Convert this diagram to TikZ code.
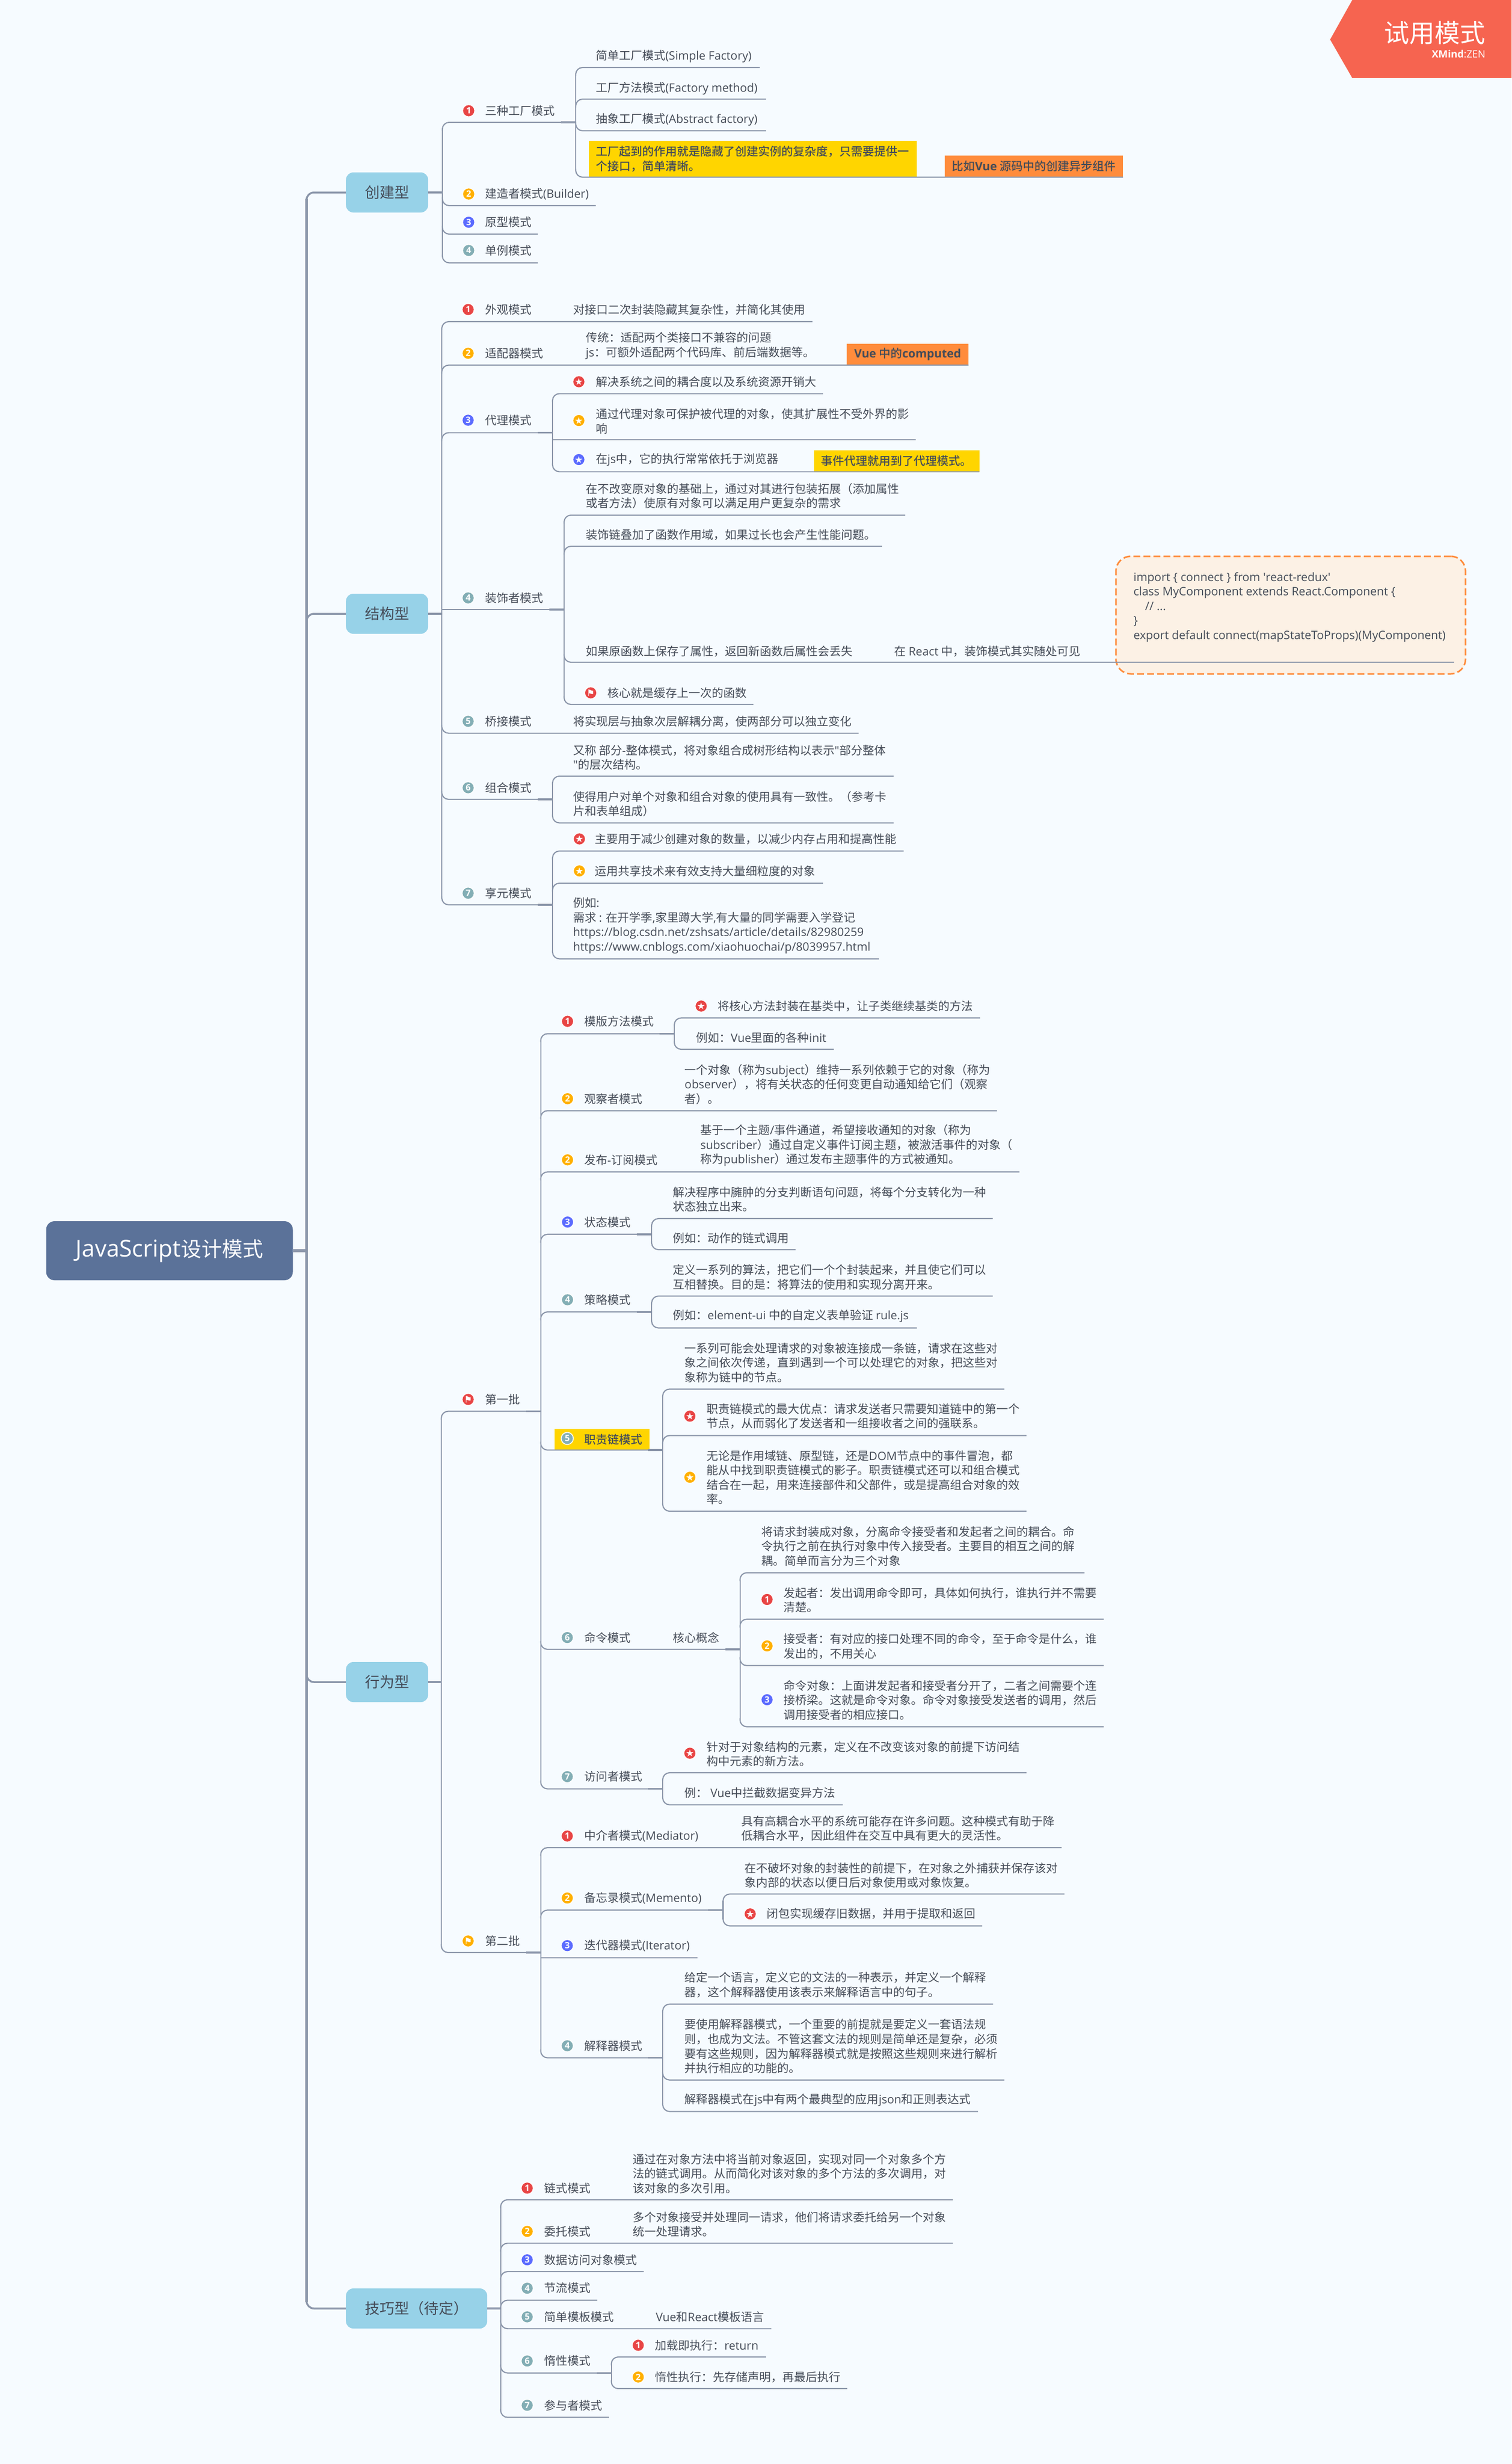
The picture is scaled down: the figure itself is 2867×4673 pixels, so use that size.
\documentclass[tikz,border=0pt]{standalone}
\usepackage{fontspec}
\setmainfont{Open Sans}
\newfontfamily\cjkfont[BoldFont={Noto Sans CJK SC Medium}]{Noto Sans CJK SC}
\newfontfamily\latfont{Open Sans}
\newfontfamily\symfont{DejaVu Sans}
\newXeTeXintercharclass\cjkclass
\newXeTeXintercharclass\symclass
\newcount\ccode
\ccode="4E00 \loop\XeTeXcharclass\ccode=\cjkclass\ifnum\ccode<"9FFF\advance\ccode by 1 \repeat
\ccode="3000 \loop\XeTeXcharclass\ccode=\cjkclass\ifnum\ccode<"303F\advance\ccode by 1 \repeat
\ccode="FF00 \loop\XeTeXcharclass\ccode=\cjkclass\ifnum\ccode<"FFEF\advance\ccode by 1 \repeat
\XeTeXcharclass"2605=\symclass
\XeTeXcharclass"2691=\symclass
\XeTeXinterchartoks 0 \cjkclass={\cjkfont}
\XeTeXinterchartoks 4095 \cjkclass={\cjkfont}
\XeTeXinterchartoks \cjkclass 0={\latfont}
\XeTeXinterchartoks 4095 0={\latfont}
\XeTeXinterchartokenstate=1
\definecolor{paper}{HTML}{F6FBFF}
\definecolor{ink}{HTML}{454C58}
\definecolor{wire}{HTML}{8B96AA}
\definecolor{navy}{HTML}{5B7299}
\definecolor{sky}{HTML}{97D2E8}
\definecolor{tagyellow}{HTML}{FFD500}
\definecolor{tagorange}{HTML}{FF8C3C}
\definecolor{trial}{HTML}{F66450}
\definecolor{icored}{HTML}{E84545}
\definecolor{icoorange}{HTML}{FFB000}
\definecolor{icoblue}{HTML}{5B6BFF}
\definecolor{icoteal}{HTML}{83AEB5}
\tikzset{
  twigline/.style={wire, line width=2.2pt, rounded corners=13pt},
  stemline/.style={wire, line width=2.2pt, shorten >=13pt, shorten <=13pt},
  stubline/.style={wire, line width=3.4pt},
  rootline/.style={wire, line width=3.5pt, rounded corners=14pt},
  txt/.style={font=\fontsize{22}{27.6}\selectfont, text=ink, anchor=west, align=left, inner sep=0pt},
  num/.style={circle, fill=#1, draw=white, line width=1.6pt, text=white, minimum size=23pt, inner sep=0pt,
    font=\fontsize{16.5}{16.5}\selectfont\bfseries},
  mainbox/.style={fill=sky, rounded corners=14pt, minimum height=76pt, anchor=west, text=ink,
    font=\fontsize{28}{32}\selectfont},
  tagbox/.style={txt, fill=#1, inner xsep=13pt, font=\fontsize{22}{27.6}\selectfont\bfseries},
}
\newcommand{\twig}[5]{%
  \coordinate (#1s) at (#2,#3);
  \coordinate (#1e) at (#4,#3);
  \ifnum#5=0 \draw[twigline] (#1s) -- (#1e);
  \else \draw[twigline] (#1s) ++(0,#5) -- (#1s) -- (#1e);
  \fi}
\newcommand{\stemdraw}[2]{\draw[stemline] (#1s) -- (#2s);}
\newcommand{\stubdraw}[1]{\draw[stubline] (#1e) -- ++(-28,0);}
\newcommand{\starmark}{{\symfont\fontsize{18}{18}\selectfont ★}}
\newcommand{\flagmark}{{\symfont\fontsize{17}{17}\selectfont ⚑}}
\begin{document}
\begin{tikzpicture}[x=1pt,y=-1pt]
  \fill[paper] (0,0) rectangle (2867,4673);
  \useasboundingbox (0,0) rectangle (2867,4673);

  \fill[trial] (2565,0) -- (2867,0) -- (2867,148) -- (2565,148) -- (2523,75) -- cycle;
  \node[anchor=east, text=white, font=\fontsize{48}{50}\selectfont] (trialT) at (2821,62) {试用模式};
  \node[anchor=east, text=white, font=\fontsize{19}{20}\selectfont] (trialZ) at (2821,102) {\textbf{XMind}:ZEN};

  \node[fill=navy, rounded corners=16pt, minimum width=468pt, minimum height=112pt, text=white,
    font=\fontsize{39}{44}\selectfont] (root) at (321.5,2372) {{\fontsize{44}{44}\selectfont JavaScript}设计模式};
  \node[mainbox, minimum width=156pt] (creat) at (656,365) {创建型};
  \node[mainbox, minimum width=156pt] (struc) at (656,1164) {结构型};
  \node[mainbox, minimum width=156pt] (behav) at (656,3190) {行为型};
  \node[mainbox, minimum width=268pt] (skill) at (656,4378) {技巧型（待定）};

  \coordinate (crs) at (581.5,365);
  \coordinate (sts) at (581.5,1164);
  \coordinate (bes) at (581.5,3190);
  \coordinate (sks) at (581.5,4378);
  \coordinate (roj) at (581.5,2372);
  \draw[rootline] (crs) ++(0,16) -- (crs) -- (creat.west);
  \draw[rootline] (sts) ++(0,16) -- (sts) -- (struc.west);
  \draw[rootline] (bes) ++(0,-16) -- (bes) -- (behav.west);
  \draw[rootline] (sks) ++(0,-16) -- (sks) -- (skill.west);
  \draw[rootline, line width=5.8pt, shorten >=12pt, shorten <=12pt] (crs) -- (sks);
  \draw[stubline, line width=6.4pt] (root.east) -- (roj);

  \coordinate (crj) at (839,365);
  \coordinate (stj) at (838,1164);
  \coordinate (bej) at (837,3190);
  \coordinate (skj) at (949.7,4378);
  \draw[stubline] (creat.east) -- (crj);
  \draw[stubline] (struc.east) -- (stj);
  \draw[stubline] (behav.east) -- (bej);
  \draw[stubline] (skill.east) -- (skj);

  \node[tagbox=tagyellow, text width=596pt, minimum height=69pt] (facN) at (1117,301.5)
    {工厂起到的作用就是隐藏了创建实例的复杂度，只需要提供一\\个接口，简单清晰。};
  \node[tagbox=tagorange, minimum width=338pt, minimum height=41pt, anchor=west] (facV) at (1792,315.5) {比如Vue 源码中的创建异步组件};
  \node[tagbox=tagorange, minimum width=231pt, minimum height=41pt] (adaV) at (1606,672) {Vue 中的computed};
  \node[tagbox=tagyellow, minimum width=313.5pt, minimum height=41pt] (proV) at (1544,874) {事件代理就用到了代理模式。};
  \node[tagbox=tagyellow, text width=154pt, minimum height=40.5pt] (chainT) at (1051.4,2729.8) {\hspace*{43.6pt}职责链模式};
  \node[draw=tagorange, fill=white!60!paper!90!orange, line width=3pt, dash pattern=on 13pt off 6pt, rounded corners=28pt,
    minimum width=663pt, minimum height=223pt] (code) at (2448.3,1166.5) {};

  \twig{fac}{839}{232}{1092}{16}
  \twig{bld}{839}{390}{1130}{-16}
  \twig{pro}{839}{444}{1020}{-16}
  \twig{sin}{839}{498.5}{1020}{-16}
  \stemdraw{fac}{sin}
  \twig{facS}{1092}{128}{1441}{16}
  \twig{facM}{1092}{188}{1453}{16}
  \twig{facA}{1092}{248}{1453}{-16}
  \twig{facB}{1092}{336}{2130}{-16}
  \stemdraw{facS}{facB}
  \stubdraw{fac}

  \twig{fas}{838}{610}{1541}{16}
  \twig{ada}{838}{692.5}{1837}{16}
  \twig{prx}{838}{820.6}{1048}{16}
  \twig{dec}{838}{1156}{1070}{0}
  \twig{bri}{838}{1390.6}{1628.6}{-16}
  \twig{com}{838}{1516}{1048}{-16}
  \twig{fly}{838}{1716}{1048}{-16}
  \stemdraw{fas}{fly}
  \twig{prxA}{1048}{746.6}{1561}{16}
  \twig{prxB}{1048}{834}{1737}{0}
  \twig{prxC}{1048}{894.6}{1857.5}{-16}
  \stemdraw{prxA}{prxC}
  \stubdraw{prx}
  \twig{decA}{1070}{977}{1717}{16}
  \twig{decB}{1070}{1036}{1673}{16}
  \twig{decC}{1070}{1256}{2758}{-16}
  \twig{decD}{1070}{1336}{1429}{-16}
  \stemdraw{decA}{decD}
  \stubdraw{dec}
  \twig{comA}{1048}{1472}{1695}{16}
  \twig{comB}{1048}{1560.6}{1695}{-16}
  \stemdraw{comA}{comB}
  \stubdraw{com}
  \twig{flyA}{1048}{1614}{1714}{16}
  \twig{flyB}{1048}{1675}{1561}{16}
  \twig{flyC}{1048}{1818.4}{1667}{-16}
  \stemdraw{flyA}{flyC}
  \stubdraw{fly}

  \twig{one}{837}{2676.5}{1025.6}{16}
  \twig{two}{837}{3703}{1025.6}{-16}
  \stemdraw{one}{two}
  \stubdraw{one}
  \stubdraw{two}
  \twig{tpl}{1025.6}{1960.4}{1279}{16}
  \twig{obs}{1025.6}{2106.4}{1891}{16}
  \twig{pub}{1025.6}{2222.5}{1933.7}{16}
  \twig{sta}{1025.6}{2340.8}{1236}{16}
  \twig{stg}{1025.6}{2488}{1236}{16}
  \twig{cha}{1025.6}{2750}{1257}{-16}
  \twig{cmd}{1025.6}{3128}{1403.6}{-16}
  \twig{vis}{1025.6}{3392.6}{1257}{-16}
  \stemdraw{tpl}{vis}
  \twig{tplA}{1279}{1930.5}{1859}{16}
  \twig{tplB}{1279}{1990}{1581.6}{-16}
  \stemdraw{tplA}{tplB}
  \stubdraw{tpl}
  \twig{staA}{1236}{2311}{1883}{16}
  \twig{staB}{1236}{2370}{1509}{-16}
  \stemdraw{staA}{staB}
  \stubdraw{sta}
  \twig{stgA}{1236}{2458}{1883}{16}
  \twig{stgB}{1236}{2518.5}{1739}{-16}
  \stemdraw{stgA}{stgB}
  \stubdraw{stg}
  \twig{chaA}{1257}{2634.4}{1905}{16}
  \twig{chaB}{1257}{2722.5}{1947}{16}
  \twig{chaC}{1257}{2866}{1947}{-16}
  \stemdraw{chaA}{chaC}
  \stubdraw{cha}
  \twig{cmdA}{1403.6}{2982.7}{2057}{16}
  \twig{cmdB}{1403.6}{3070.7}{2093.6}{16}
  \twig{cmdC}{1403.6}{3158.8}{2093.6}{-16}
  \twig{cmdD}{1403.6}{3274.7}{2093.6}{-16}
  \stemdraw{cmdA}{cmdD}
  \stubdraw{cmd}
  \twig{visA}{1257}{3362}{1947}{16}
  \twig{visB}{1257}{3422.7}{1598.6}{-16}
  \stemdraw{visA}{visB}
  \stubdraw{vis}

  \twig{med}{1025.6}{3504}{2013.6}{16}
  \twig{mem}{1025.6}{3622.4}{1371.4}{16}
  \twig{ite}{1025.6}{3712.6}{1323}{0}
  \twig{itp}{1025.6}{3902.6}{1257}{-16}
  \stemdraw{med}{itp}
  \twig{memA}{1371.4}{3592}{2019}{16}
  \twig{memB}{1371.4}{3652.5}{1863}{-16}
  \stemdraw{memA}{memB}
  \stubdraw{mem}
  \twig{itpA}{1257}{3800.8}{1883.6}{16}
  \twig{itpB}{1257}{3944.7}{1905}{-16}
  \twig{itpC}{1257}{4004.4}{1855}{-16}
  \stemdraw{itpA}{itpC}
  \stubdraw{itp}

  \twig{lnk}{949.7}{4171.8}{1807.5}{16}
  \twig{del}{949.7}{4254.3}{1807.5}{16}
  \twig{dao}{949.7}{4308}{1220.8}{16}
  \twig{thr}{949.7}{4362.4}{1132.8}{16}
  \twig{tem}{949.7}{4416.3}{1463}{-16}
  \twig{laz}{949.7}{4500.4}{1159.6}{-16}
  \twig{par}{949.7}{4584.5}{1155}{-16}
  \stemdraw{lnk}{par}
  \twig{lazA}{1159.6}{4470}{1453}{16}
  \twig{lazB}{1159.6}{4530}{1607}{-16}
  \stemdraw{lazA}{lazB}
  \stubdraw{laz}

  \node[num=icored] (facI) at (889,210) {1};
  \node[txt] (facT) at (920,210) {三种工厂模式};
  \node[txt] (facST) at (1130,107) {简单工厂模式(Simple Factory)};
  \node[txt] (facMT) at (1130,168) {工厂方法模式(Factory method)};
  \node[txt] (facAT) at (1130,227) {抽象工厂模式(Abstract factory)};
  \node[num=icoorange] (bldI) at (889,368) {2};
  \node[txt] (bldT) at (920,368) {建造者模式(Builder)};
  \node[num=icoblue] (proI) at (889,421.5) {3};
  \node[txt] (proT) at (920,421.5) {原型模式};
  \node[num=icoteal] (sinI) at (889,475) {4};
  \node[txt] (sinT) at (920,475) {单例模式};

  \node[num=icored] (fasI) at (888,587) {1};
  \node[txt] (fasT) at (920,587) {外观模式};
  \node[txt] (fasD) at (1087,587) {对接口二次封装隐藏其复杂性，并简化其使用};
  \node[num=icoorange] (adaI) at (888,670) {2};
  \node[txt] (adaT) at (920,670) {适配器模式};
  \node[txt] (adaD) at (1111,656) {传统：适配两个类接口不兼容的问题\\js：可额外适配两个代码库、前后端数据等。};
  \node[num=icoblue] (prxI) at (888,797) {3};
  \node[txt] (prxT) at (920,797) {代理模式};
  \node[num=icored] (prxAI) at (1098,724) {\starmark};
  \node[txt] (prxAT) at (1130,724) {解决系统之间的耦合度以及系统资源开销大};
  \node[num=icoorange] (prxBI) at (1098,797.6) {\starmark};
  \node[txt] (prxBT) at (1130,799) {通过代理对象可保护被代理的对象，使其扩展性不受外界的影\\响};
  \node[num=icoblue] (prxCI) at (1098,871.6) {\starmark};
  \node[txt] (prxCT) at (1130,871.6) {在js中，它的执行常常依托于浏览器};
  \node[num=icoteal] (decI) at (888,1134) {4};
  \node[txt] (decT) at (920,1134) {装饰者模式};
  \node[txt] (decAT) at (1111,940.5) {在不改变原对象的基础上，通过对其进行包装拓展（添加属性\\或者方法）使原有对象可以满足用户更复杂的需求};
  \node[txt] (decBT) at (1111,1014.5) {装饰链叠加了函数作用域，如果过长也会产生性能问题。};
  \node[txt] (decCT) at (1111,1235) {如果原函数上保存了属性，返回新函数后属性会丢失};
  \node[txt] (decCR) at (1696.5,1235) {在 React 中，装饰模式其实随处可见};
  \node[txt] (codeT) at (2150,1151.5) {import \{ connect \} from \textquotesingle react-redux\textquotesingle\\class MyComponent extends React.Component \{\\\hspace*{22pt}// ...\\\}\\export default connect(mapStateToProps)(MyComponent)};
  \node[num=icored] (decDI) at (1120.5,1314) {\flagmark};
  \node[txt] (decDT) at (1152,1314) {核心就是缓存上一次的函数};
  \node[num=icoteal] (briI) at (888,1368) {5};
  \node[txt] (briT) at (920,1368) {桥接模式};
  \node[txt] (briD) at (1087,1368.6) {将实现层与抽象次层解耦分离，使两部分可以独立变化};
  \node[num=icoteal] (comI) at (888,1494) {6};
  \node[txt] (comT) at (920,1494) {组合模式};
  \node[txt] (comAT) at (1087,1436.5) {又称 部分-整体模式，将对象组合成树形结构以表示"部分整体\\"的层次结构。};
  \node[txt] (comBT) at (1087,1524.5) {使得用户对单个对象和组合对象的使用具有一致性。（参考卡\\片和表单组成）};
  \node[num=icoteal] (flyI) at (888,1694) {7};
  \node[txt] (flyT) at (920,1694) {享元模式};
  \node[num=icored] (flyAI) at (1099,1591) {\starmark};
  \node[txt] (flyAT) at (1128.6,1591) {主要用于减少创建对象的数量，以减少内存占用和提高性能};
  \node[num=icoorange] (flyBI) at (1099,1651.7) {\starmark};
  \node[txt] (flyBT) at (1128.6,1651.7) {运用共享技术来有效支持大量细粒度的对象};
  \node[txt] (flyCT) at (1087,1755.5) {例如:\\需求 : 在开学季,家里蹲大学,有大量的同学需要入学登记\\https://blog.csdn.net/zshsats/article/details/82980259\\https://www.cnblogs.com/xiaohuochai/p/8039957.html};

  \node[num=icored] (oneI) at (888,2654) {\flagmark};
  \node[txt] (oneT) at (920,2654) {第一批};
  \node[num=icoorange] (twoI) at (888,3681) {\flagmark};
  \node[txt] (twoT) at (920,3681) {第二批};

  \node[num=icored] (tplI) at (1076.5,1937) {1};
  \node[txt] (tplT) at (1108,1937) {模版方法模式};
  \node[num=icored] (tplAI) at (1330,1908) {\starmark};
  \node[txt] (tplAT) at (1361.6,1908) {将核心方法封装在基类中，让子类继续基类的方法};
  \node[txt] (tplBT) at (1320,1968.5) {例如：Vue里面的各种init};
  \node[num=icoorange] (obsI) at (1076.5,2083.7) {2};
  \node[txt] (obsT) at (1108,2083.7) {观察者模式};
  \node[txt] (obsD) at (1298.5,2056.4) {一个对象（称为subject）维持一系列依赖于它的对象（称为\\observer），将有关状态的任何变更自动通知给它们（观察\\者）。};
  \node[num=icoorange] (pubI) at (1076.5,2199.7) {2};
  \node[txt] (pubT) at (1108,2199.7) {发布-订阅模式};
  \node[txt] (pubD) at (1328.4,2172.5) {基于一个主题/事件通道，希望接收通知的对象（称为\\subscriber）通过自定义事件订阅主题，被激活事件的对象（\\称为publisher）通过发布主题事件的方式被通知。};
  \node[num=icoblue] (staI) at (1076.5,2317.6) {3};
  \node[txt] (staT) at (1108,2317.6) {状态模式};
  \node[txt] (staAT) at (1276,2274.5) {解决程序中臃肿的分支判断语句问题，将每个分支转化为一种\\状态独立出来。};
  \node[txt] (staBT) at (1276,2348) {例如：动作的链式调用};
  \node[num=icoteal] (stgI) at (1076.5,2465) {4};
  \node[txt] (stgT) at (1108,2465) {策略模式};
  \node[txt] (stgAT) at (1276,2422) {定义一系列的算法，把它们一个个封装起来，并且使它们可以\\互相替换。目的是：将算法的使用和实现分离开来。};
  \node[txt] (stgBT) at (1276,2496) {例如：element-ui 中的自定义表单验证 rule.js};
  \node[num=icoteal] (chaI) at (1076,2728) {5};
  \node[txt] (chaAT) at (1298.6,2584.5) {一系列可能会处理请求的对象被连接成一条链，请求在这些对\\象之间依次传递，直到遇到一个可以处理它的对象，把这些对\\象称为链中的节点。};
  \node[num=icored] (chaBI) at (1308.6,2685.7) {\starmark};
  \node[txt] (chaBT) at (1340,2686) {职责链模式的最大优点：请求发送者只需要知道链中的第一个\\节点，从而弱化了发送者和一组接收者之间的强联系。};
  \node[num=icoorange] (chaCI) at (1308.6,2801.6) {\starmark};
  \node[txt] (chaCT) at (1340,2802) {无论是作用域链、原型链，还是DOM节点中的事件冒泡，都\\能从中找到职责链模式的影子。职责链模式还可以和组合模式\\结合在一起，用来连接部件和父部件，或是提高组合对象的效\\率。};
  \node[num=icoteal] (cmdI) at (1076,3105.6) {6};
  \node[txt] (cmdT) at (1108,3105.6) {命令模式};
  \node[txt] (cmdD) at (1276.4,3105.6) {核心概念};
  \node[txt] (cmdAT) at (1444,2932.4) {将请求封装成对象，分离命令接受者和发起者之间的耦合。命\\令执行之前在执行对象中传入接受者。主要目的相互之间的解\\耦。简单而言分为三个对象};
  \node[num=icored] (cmdBI) at (1455,3033.4) {1};
  \node[txt] (cmdBT) at (1486.4,3034.5) {发起者：发出调用命令即可，具体如何执行，谁执行并不需要\\清楚。};
  \node[num=icoorange] (cmdCI) at (1455,3121.5) {2};
  \node[txt] (cmdCT) at (1486.4,3122.5) {接受者：有对应的接口处理不同的命令，至于命令是什么，谁\\发出的，不用关心};
  \node[num=icoblue] (cmdDI) at (1455,3223.5) {3};
  \node[txt] (cmdDT) at (1486.4,3224.5) {命令对象：上面讲发起者和接受者分开了，二者之间需要个连\\接桥梁。这就是命令对象。命令对象接受发送者的调用，然后\\调用接受者的相应接口。};
  \node[num=icoteal] (visI) at (1076,3369.4) {7};
  \node[txt] (visT) at (1108,3369.4) {访问者模式};
  \node[num=icored] (visAI) at (1308.6,3325) {\starmark};
  \node[txt] (visAT) at (1340,3326.7) {针对于对象结构的元素，定义在不改变该对象的前提下访问结\\构中元素的新方法。};
  \node[txt] (visBT) at (1298.6,3400.4) {例：\ Vue中拦截数据变异方法};

  \node[num=icored] (medI) at (1076,3482) {1};
  \node[txt] (medT) at (1108,3482) {中介者模式(Mediator)};
  \node[txt] (medD) at (1406.4,3468) {具有高耦合水平的系统可能存在许多问题。这种模式有助于降\\低耦合水平，因此组件在交互中具有更大的灵活性。};
  \node[num=icoorange] (memI) at (1076,3599.6) {2};
  \node[txt] (memT) at (1108,3599.6) {备忘录模式(Memento)};
  \node[txt] (memAT) at (1412,3556.7) {在不破坏对象的封装性的前提下，在对象之外捕获并保存该对\\象内部的状态以便日后对象使用或对象恢复。};
  \node[num=icored] (memBI) at (1423,3629.7) {\starmark};
  \node[txt] (memBT) at (1454,3629.7) {闭包实现缓存旧数据，并用于提取和返回};
  \node[num=icoblue] (iteI) at (1076,3689.8) {3};
  \node[txt] (iteT) at (1108,3689.8) {迭代器模式(Iterator)};
  \node[num=icoteal] (itpI) at (1076,3879.8) {4};
  \node[txt] (itpT) at (1108,3879.8) {解释器模式};
  \node[txt] (itpAT) at (1298.6,3764.2) {给定一个语言，定义它的文法的一种表示，并定义一个解释\\器，这个解释器使用该表示来解释语言中的句子。};
  \node[txt] (itpBT) at (1298.6,3880.8) {要使用解释器模式，一个重要的前提就是要定义一套语法规\\则，也成为文法。不管这套文法的规则是简单还是复杂，必须\\要有这些规则，因为解释器模式就是按照这些规则来进行解析\\并执行相应的功能的。};
  \node[txt] (itpCT) at (1298.6,3982.6) {解释器模式在js中有两个最典型的应用json和正则表达式};

  \node[num=icored] (lnkI) at (1000,4149.8) {1};
  \node[txt] (lnkT) at (1032.6,4149.8) {链式模式};
  \node[txt] (lnkD) at (1200.4,4122.4) {通过在对象方法中将当前对象返回，实现对同一个对象多个方\\法的链式调用。从而简化对该对象的多个方法的多次调用，对\\该对象的多次引用。};
  \node[num=icoorange] (delI) at (1000,4231.8) {2};
  \node[txt] (delT) at (1032.6,4231.8) {委托模式};
  \node[txt] (delD) at (1200.4,4218.6) {多个对象接受并处理同一请求，他们将请求委托给另一个对象\\统一处理请求。};
  \node[num=icoblue] (daoI) at (1000,4285.7) {3};
  \node[txt] (daoT) at (1032.6,4285.7) {数据访问对象模式};
  \node[num=icoteal] (thrI) at (1000,4339.6) {4};
  \node[txt] (thrT) at (1032.6,4339.6) {节流模式};
  \node[num=icoteal] (temI) at (1000,4393.9) {5};
  \node[txt] (temT) at (1032.6,4393.9) {简单模板模式};
  \node[txt] (temD) at (1243.8,4393.9) {Vue和React模板语言};
  \node[num=icoteal] (lazI) at (1000,4477.6) {6};
  \node[txt] (lazT) at (1032.6,4477.6) {惰性模式};
  \node[num=icored] (lazAI) at (1210.6,4447.8) {1};
  \node[txt] (lazAT) at (1241.8,4447.8) {加载即执行：return};
  \node[num=icoorange] (lazBI) at (1210.6,4508) {2};
  \node[txt] (lazBT) at (1241.8,4508) {惰性执行：先存储声明，再最后执行};
  \node[num=icoteal] (parI) at (1000,4561.6) {7};
  \node[txt] (parT) at (1032.6,4561.6) {参与者模式};
\end{tikzpicture}
\end{document}
